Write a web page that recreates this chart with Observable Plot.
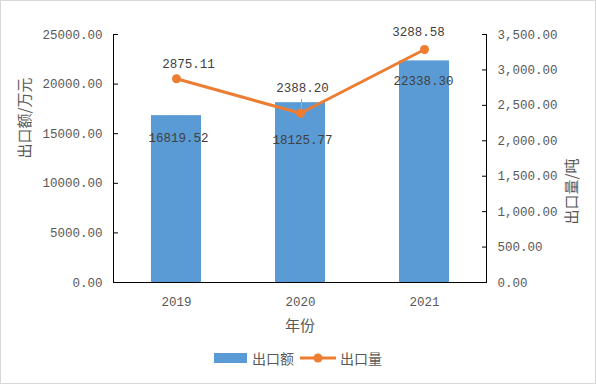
<!DOCTYPE html>
<html>
<head>
<meta charset="utf-8">
<script src="https://cdn.jsdelivr.net/npm/d3@7"></script>
<script src="https://cdn.jsdelivr.net/npm/@observablehq/plot@0.6"></script>
<style>
  html, body { margin: 0; padding: 0; background: #fff; }
  #wrap { position: absolute; left: 0; top: 0; width: 594px; height: 382px; border: 1px solid #d9d9d9; background: #fff; overflow: hidden; }
  #legend { height: 32px; display: flex; align-items: center; justify-content: center; font-family: "Noto Sans CJK SC", sans-serif; font-size: 14px; color: #595959; }
  #legend .sw { width: 33px; height: 10px; background: #5B9BD5; margin-right: 5px; }
  #legend .ln { margin: 0 4px 0 6px; }
</style>
</head>
<body>
<div id="wrap">
  <div id="chart"></div>
  <div id="legend">
    <span class="sw"></span><span>出口额</span>
    <svg class="ln" width="36" height="10"><line x1="0" y1="5" x2="36" y2="5" stroke="#ED7D31" stroke-width="3"/><circle cx="18" cy="5" r="4.5" fill="#ED7D31"/></svg>
    <span>出口量</span>
  </div>
</div>
<script>
const years = ["2019", "2020", "2021"];
const exportValue = [16819.52, 18125.77, 22338.30];   // 出口额 / 万元
const exportVolume = [2875.11, 2388.20, 3288.58];     // 出口量 / 吨
const leftTicks = [0, 5000, 10000, 15000, 20000, 25000];
const rightTicks = [0, 500, 1000, 1500, 2000, 2500, 3000, 3500];
const leftMax = 25000;
const rightMax = 3500;

const ratio = leftMax / rightMax;
const data = years.map((year, i) => ({
  year,
  value: exportValue[i],
  volume: exportVolume[i],
  volScaled: exportVolume[i] * ratio
}));

const mono = "Liberation Mono, DejaVu Sans Mono, monospace";
const cjk = "Noto Sans CJK SC, sans-serif";
const fmt2 = d3.format(".2f");
const fmtComma = d3.format(",.2f");

const lineLabelOffsets = [[12, -15], [2, -25], [-6, -17]];
const barLabelOffsets = [[2, 22], [2, 37], [-1, 20]];

const marks = [
  Plot.barY(data, {x: "year", y: "value", fill: "#5B9BD5"}),
  Plot.ruleX(data.filter(d => d.year === "2020"), {x: "year", y1: "volScaled", y2: "volScaled", insetTop: -14, insetBottom: 2, dx: 1, stroke: "#a6a6a6", strokeWidth: 1}),
  Plot.line(data, {x: "year", y: "volScaled", stroke: "#ED7D31", strokeWidth: 3}),
  Plot.dot(data, {x: "year", y: "volScaled", r: 4.5, fill: "#ED7D31", stroke: "none"}),
  ...data.map((d, i) => Plot.text([d], {x: "year", y: "volScaled", text: e => fmt2(e.volume), dx: lineLabelOffsets[i][0], dy: lineLabelOffsets[i][1], fill: "#404040", fontSize: 12.5, fontFamily: mono})),
  ...data.map((d, i) => Plot.text([d], {x: "year", y: "value", text: e => fmt2(e.value), dx: barLabelOffsets[i][0], dy: barLabelOffsets[i][1], fill: "#404040", fontSize: 12.5, fontFamily: mono})),
  Plot.axisY(leftTicks, {anchor: "left", label: null, tickFormat: fmt2, tickSize: -5, tickPadding: 16, stroke: "#000", fill: "#595959", fontSize: 12.5, fontFamily: mono}),
  Plot.axisY(rightTicks.map(t => t * ratio), {anchor: "right", label: null, tickFormat: d => fmtComma(d / ratio), tickSize: -5, tickPadding: 16, stroke: "#000", fill: "#595959", fontSize: 12.5, fontFamily: mono}),
  Plot.axisX({anchor: "bottom", label: null, tickSize: 0, tickPadding: 15, fill: "#595959", fontSize: 12.5, fontFamily: mono}),
  Plot.frame({anchor: "left", stroke: "#000"}),
  Plot.frame({anchor: "right", stroke: "#000"}),
  Plot.ruleY([0], {stroke: "#000"}),
  Plot.text(["出口额/万元"], {frameAnchor: "left", dx: -88, rotate: -90, fontSize: 15, fontFamily: cjk, fill: "#595959"}),
  Plot.text(["出口量/吨"], {frameAnchor: "right", dx: 86, rotate: -90, fontSize: 15, fontFamily: cjk, fill: "#595959"}),
  Plot.text(["年份"], {frameAnchor: "bottom", dy: 48, fontSize: 15, fontFamily: cjk, fill: "#595959"})
];

const chart = Plot.plot({
  width: 594,
  height: 341,
  marginLeft: 112,
  marginRight: 109,
  marginTop: 33,
  marginBottom: 60,
  style: {background: "#fff", overflow: "visible"},
  x: {type: "band", domain: years, paddingInner: 0.6, paddingOuter: 0.3},
  y: {domain: [0, leftMax]},
  marks
});
document.getElementById("chart").appendChild(chart);
</script>
</body>
</html>
